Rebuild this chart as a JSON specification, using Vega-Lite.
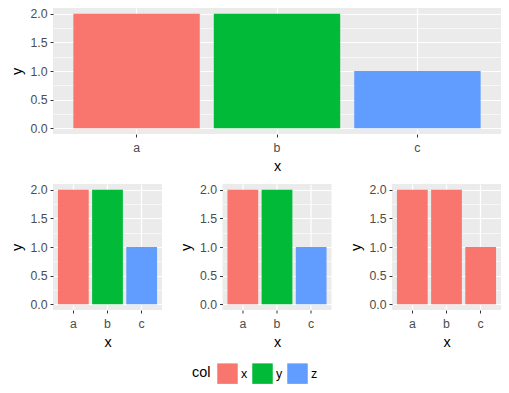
{
  "$schema": "https://vega.github.io/schema/vega-lite/v6.json",
  "padding": {"left": 9, "top": 7, "right": 8, "bottom": 5},
  "background": "white",
  "datasets": {
    "colored": [
      {"x": "a", "y": 2, "col": "x"},
      {"x": "b", "y": 2, "col": "y"},
      {"x": "c", "y": 1, "col": "z"}
    ],
    "plain": [
      {"x": "a", "y": 2, "col": "x"},
      {"x": "b", "y": 2, "col": "x"},
      {"x": "c", "y": 1, "col": "x"}
    ]
  },
  "config": {
    "font": "Liberation Sans",
    "view": {"fill": "#EBEBEB", "stroke": null},
    "axis": {
      "domain": false,
      "gridColor": "#FFFFFF",
      "tickColor": "#333333",
      "tickSize": 3,
      "tickWidth": 1,
      "labelColor": "#4D4D4D",
      "labelFontSize": 12.3,
      "labelFont": "Liberation Sans",
      "titleFont": "Liberation Sans",
      "titleFontSize": 14.4,
      "titleFontWeight": "normal",
      "titleColor": "#000000"
    },
    "legend": {
      "layout": {"bottom": {"anchor": "middle"}}
    }
  },
  "spacing": 10,
  "vconcat": [
    {
      "width": 448,
      "height": 126,
      "data": {"name": "colored"},
      "mark": {"type": "bar"},
      "encoding": {
        "x": {"field": "x", "type": "nominal", "title": "x",
          "scale": {"paddingInner": 0.1, "paddingOuter": 0.145},
          "axis": {"labelAngle": 0, "grid": true, "gridWidth": 1.2, "bandPosition": 0.5, "labelPadding": 4.5, "titlePadding": 5.5}},
        "y": {"field": "y", "type": "quantitative", "title": "y",
          "scale": {"domain": [-0.1, 2.1], "nice": false, "zero": false},
          "axis": {"values": [0, 0.25, 0.5, 0.75, 1, 1.25, 1.5, 1.75, 2],
            "labelExpr": "datum.value % 0.5 == 0 ? format(datum.value, '.1f') : ''",
            "labelOverlap": false,
            "gridWidth": {"condition": {"test": "datum.value % 0.5 != 0", "value": 0.6}, "value": 1.2},
            "tickOpacity": {"condition": {"test": "datum.value % 0.5 != 0", "value": 0}, "value": 1},
            "labelPadding": 3, "titlePadding": 5.8}},
        "y2": {"datum": 0},
        "color": {"field": "col", "type": "nominal", "title": "col",
          "scale": {"domain": ["x", "y", "z"], "range": ["#F8766D", "#00BA38", "#619CFF"]},
          "legend": {"orient": "bottom", "direction": "horizontal", "titleOrient": "left", "offset": 14,
            "symbolType": "square", "symbolSize": 420, "symbolStrokeWidth": 0, "symbolOpacity": 1,
            "labelFontSize": 12.5, "labelColor": "#000000", "labelOffset": 3, "columnPadding": 4,
            "titleFontSize": 14.4, "titleFontWeight": "normal", "titleColor": "#000000", "titlePadding": 6,
            "titleBaseline": "middle", "titleAnchor": "middle"}}
      }
    },
    {
      "spacing": 16.5,
      "hconcat": [
        {
          "width": 109, "height": 126,
          "data": {"name": "colored"},
          "mark": {"type": "bar"},
          "encoding": {
            "x": {"field": "x", "type": "nominal", "title": "x",
              "scale": {"paddingInner": 0.1, "paddingOuter": 0.145},
              "axis": {"labelAngle": 0, "grid": true, "gridWidth": 1.2, "bandPosition": 0.5, "labelPadding": 4.5, "titlePadding": 5.5}},
            "y": {"field": "y", "type": "quantitative", "title": "y",
              "scale": {"domain": [-0.1, 2.1], "nice": false, "zero": false},
              "axis": {"values": [0, 0.25, 0.5, 0.75, 1, 1.25, 1.5, 1.75, 2],
                "labelExpr": "datum.value % 0.5 == 0 ? format(datum.value, '.1f') : ''",
                "labelOverlap": false,
                "gridWidth": {"condition": {"test": "datum.value % 0.5 != 0", "value": 0.6}, "value": 1.2},
                "tickOpacity": {"condition": {"test": "datum.value % 0.5 != 0", "value": 0}, "value": 1},
                "labelPadding": 3, "titlePadding": 5.8}},
            "y2": {"datum": 0},
            "color": {"field": "col", "type": "nominal", "title": "col"}
          }
        },
        {
          "width": 109, "height": 126,
          "data": {"name": "colored"},
          "mark": {"type": "bar"},
          "encoding": {
            "x": {"field": "x", "type": "nominal", "title": "x",
              "scale": {"paddingInner": 0.1, "paddingOuter": 0.145},
              "axis": {"labelAngle": 0, "grid": true, "gridWidth": 1.2, "bandPosition": 0.5, "labelPadding": 4.5, "titlePadding": 5.5}},
            "y": {"field": "y", "type": "quantitative", "title": "y",
              "scale": {"domain": [-0.1, 2.1], "nice": false, "zero": false},
              "axis": {"values": [0, 0.25, 0.5, 0.75, 1, 1.25, 1.5, 1.75, 2],
                "labelExpr": "datum.value % 0.5 == 0 ? format(datum.value, '.1f') : ''",
                "labelOverlap": false,
                "gridWidth": {"condition": {"test": "datum.value % 0.5 != 0", "value": 0.6}, "value": 1.2},
                "tickOpacity": {"condition": {"test": "datum.value % 0.5 != 0", "value": 0}, "value": 1},
                "labelPadding": 3, "titlePadding": 5.8}},
            "y2": {"datum": 0},
            "color": {"field": "col", "type": "nominal", "title": "col"}
          }
        },
        {
          "width": 109, "height": 126,
          "data": {"name": "plain"},
          "mark": {"type": "bar"},
          "encoding": {
            "x": {"field": "x", "type": "nominal", "title": "x",
              "scale": {"paddingInner": 0.1, "paddingOuter": 0.145},
              "axis": {"labelAngle": 0, "grid": true, "gridWidth": 1.2, "bandPosition": 0.5, "labelPadding": 4.5, "titlePadding": 5.5}},
            "y": {"field": "y", "type": "quantitative", "title": "y",
              "scale": {"domain": [-0.1, 2.1], "nice": false, "zero": false},
              "axis": {"values": [0, 0.25, 0.5, 0.75, 1, 1.25, 1.5, 1.75, 2],
                "labelExpr": "datum.value % 0.5 == 0 ? format(datum.value, '.1f') : ''",
                "labelOverlap": false,
                "gridWidth": {"condition": {"test": "datum.value % 0.5 != 0", "value": 0.6}, "value": 1.2},
                "tickOpacity": {"condition": {"test": "datum.value % 0.5 != 0", "value": 0}, "value": 1},
                "labelPadding": 3, "titlePadding": 5.8}},
            "y2": {"datum": 0},
            "color": {"field": "col", "type": "nominal", "title": "col"}
          }
        }
      ]
    }
  ]
}
